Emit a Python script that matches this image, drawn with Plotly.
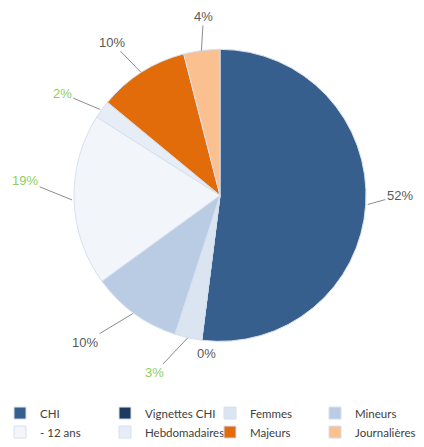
import math
import plotly.graph_objects as go

# données (en %)
labels = ["CHI", "Vignettes CHI", "Femmes", "Mineurs", "- 12 ans",
          "Hebdomadaires", "Majeurs", "Journalières"]
values = [52, 0, 3, 10, 19, 2, 10, 4]
colors = ["#375f8e", "#1f3a5f", "#dbe5f2", "#b9cce4", "#f2f6fb",
          "#e6edf7", "#e36c0a", "#fac090"]
label_colors = ["#595959", "#595959", "#8fce5c", "#595959", "#8fce5c",
                "#8fce5c", "#595959", "#595959"]

W, H = 424, 447
cx, cy, r = 220, 198, 148   # centre et rayon du camembert (px)

# décalage du texte par rapport au bord de la part (px)
label_offsets = [(32, -9), (5, 13), (-33, 35), (-48, 29), (-47, -19),
                 (-38, -16), (-29, -30), (2, -34)]

fig = go.Figure()
fig.add_trace(go.Pie(
    labels=labels, values=values, sort=False, direction="clockwise",
    marker=dict(colors=colors, line=dict(color="#d6e0ee", width=1)),
    textinfo="none", hoverinfo="label+percent",
    domain=dict(x=[(cx - r) / W, (cx + r) / W],
                y=[1 - (cy + r) / H, 1 - (cy - r) / H]),
))

total = sum(values)
cum = 0
for v, col, (ax, ay) in zip(values, label_colors, label_offsets):
    mid = (cum + v / 2) / total * 2 * math.pi
    cum += v
    px = cx + r * math.sin(mid)
    py = cy - r * math.cos(mid)
    fig.add_annotation(
        x=px / W, y=1 - py / H, xref="paper", yref="paper",
        text=f"{round(v / total * 100)}%", showarrow=True,
        ax=ax, ay=ay, arrowhead=0, arrowwidth=1, standoff=0,
        arrowcolor="#8c8c8c" if v > 0 else "rgba(0,0,0,0)",
        font=dict(family="Liberation Sans, Arial, sans-serif", size=13, color=col),
    )

fig.update_layout(
    width=W, height=H,
    margin=dict(l=0, r=0, t=0, b=0),
    paper_bgcolor="white",
    font=dict(family="Lato, Liberation Sans, sans-serif", color="#404040"),
    showlegend=True,
    legend=dict(orientation="h", x=0.0, y=1 - 404 / H, xanchor="left", yanchor="top",
                entrywidth=60, entrywidthmode="pixels",
                font=dict(size=11.5, color="#404040"), itemwidth=30,
                traceorder="normal"),
)

fig.write_html("out.html", config={"displayModeBar": False},
               post_script="document.body.style.margin='0';")
